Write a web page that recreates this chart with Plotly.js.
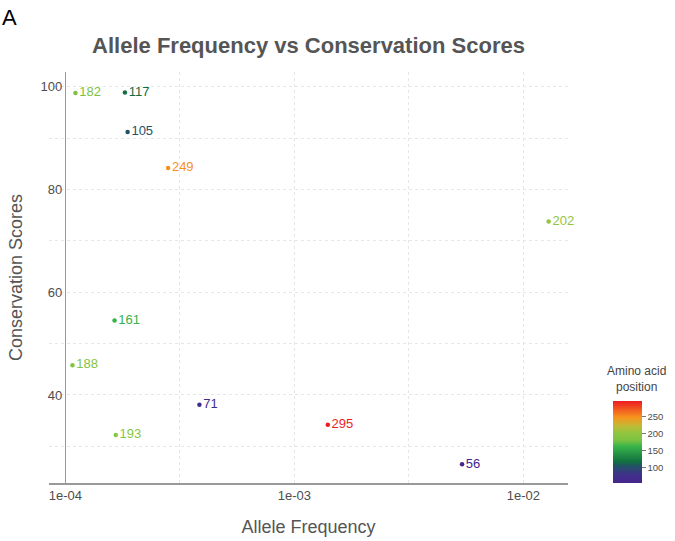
<!DOCTYPE html>
<html>
<head>
<meta charset="utf-8">
<script src="https://cdn.plot.ly/plotly-3.0.1.min.js"></script>
<style>html,body{margin:0;padding:0;background:#fff;}#chart{width:675px;height:541px;}</style>
</head>
<body>
<div id="chart"></div>
<script>
// Data
const positions = [182, 117, 105, 249, 202, 161, 188, 193, 71, 295, 56];
const alleleFreq = [1.107e-4, 1.82e-4, 1.87e-4, 2.81e-4, 1.29e-2, 1.64e-4, 1.074e-4, 1.66e-4, 3.85e-4, 1.40e-3, 5.40e-3];
const conservation = [98.8, 98.9, 91.2, 84.2, 73.8, 54.5, 45.8, 32.2, 38.1, 34.2, 26.5];
const xTickVals = [1e-4, 1e-3, 1e-2];
const xTickText = ['1e-04', '1e-03', '1e-02'];
const yTickVals = [40, 60, 80, 100];
const cbarTickVals = [100, 150, 200, 250];

const colorscale = [
  [0.0, '#46258c'],
  [0.1, '#40308a'],
  [0.2, '#255068'],
  [0.26, '#107040'],
  [0.45, '#39b54a'],
  [0.52, '#7cc242'],
  [0.6, '#8dc63f'],
  [0.69, '#bdbb36'],
  [0.8, '#f7941d'],
  [1.0, '#ed1c24']
];
const cmin = Math.min(...positions), cmax = Math.max(...positions);

function hexToRgb(h){return [parseInt(h.substr(1,2),16),parseInt(h.substr(3,2),16),parseInt(h.substr(5,2),16)];}
function colorFor(v){
  const t = (v - cmin) / (cmax - cmin);
  for (let i = 1; i < colorscale.length; i++) {
    if (t <= colorscale[i][0]) {
      const a = colorscale[i-1], b = colorscale[i];
      const f = (t - a[0]) / (b[0] - a[0]);
      const ca = hexToRgb(a[1]), cb = hexToRgb(b[1]);
      const c = ca.map((x, k) => Math.round(x + (cb[k] - x) * f));
      return 'rgb(' + c.join(',') + ')';
    }
  }
  return colorscale[colorscale.length-1][1];
}
const textColors = positions.map(colorFor);

const trace = {
  type: 'scatter',
  mode: 'markers+text',
  x: alleleFreq,
  y: conservation,
  text: positions.map(String),
  textposition: 'middle right',
  textfont: {family: 'Liberation Sans, Arial, sans-serif', size: 13, color: textColors},
  marker: {
    size: 4.5,
    color: positions,
    colorscale: colorscale,
    cmin: cmin,
    cmax: cmax,
    showscale: true,
    colorbar: {
      x: 1.086, xanchor: 'left', xpad: 0,
      y: 0, yanchor: 'bottom', ypad: 0,
      len: 0.2, lenmode: 'fraction',
      thickness: 29,
      outlinewidth: 0,
      tickvals: cbarTickVals,
      ticks: 'outside', ticklen: 4, tickcolor: '#777', tickwidth: 1,
      tickfont: {family: 'Liberation Sans, Arial, sans-serif', size: 9.5, color: '#4d4d4d'}
    }
  },
  hoverinfo: 'x+y+text',
  cliponaxis: false,
  showlegend: false
};

const axisFont = {family: 'Liberation Sans, Arial, sans-serif', size: 13, color: '#4d4d4d'};
const titleFont = {family: 'Liberation Sans, Arial, sans-serif', size: 18, color: '#555555'};
const gridCol = '#e6e6e6';

const layout = {
  width: 675, height: 541,
  margin: {l: 49, r: 103, t: 72, b: 58},
  paper_bgcolor: '#ffffff', plot_bgcolor: '#ffffff',
  title: {
    text: '<b>Allele Frequency vs Conservation Scores</b>',
    font: {family: 'Liberation Sans, Arial, sans-serif', size: 22, color: '#555555'},
    x: 0.5, xref: 'paper', xanchor: 'center',
    y: 1 - 45/541, yref: 'container', yanchor: 'middle'
  },
  xaxis: {
    type: 'log',
    range: [-4.0714, -1.805],
    tickvals: xTickVals, ticktext: xTickText,
    ticks: '', showline: true, linecolor: '#999999', linewidth: 1.5,
    showgrid: true, gridcolor: gridCol, griddash: 'dot', gridwidth: 1,
    minor: {tickvals: [3.162e-4, 3.162e-3], showgrid: true, gridcolor: gridCol, griddash: 'dot', ticks: ''},
    zeroline: false,
    tickfont: axisFont,
    title: {text: 'Allele Frequency', font: titleFont, standoff: 18}
  },
  yaxis: {
    range: [22.86, 102.9],
    tickvals: yTickVals,
    anchor: 'free', position: 16/523,
    ticks: '', showline: true, linecolor: '#999999', linewidth: 1.5,
    showgrid: true, gridcolor: gridCol, griddash: 'dot', gridwidth: 1,
    minor: {tickvals: [30, 50, 70, 90], showgrid: true, gridcolor: gridCol, griddash: 'dot', ticks: ''},
    zeroline: false,
    tickfont: axisFont,
    title: {text: 'Conservation Scores', font: titleFont, standoff: 12}
  },
  annotations: [
    {text: 'A', xref: 'paper', yref: 'paper', x: -49/523, y: 1 + (72-18)/411, xanchor: 'left', yanchor: 'middle',
     showarrow: false, font: {family: 'Liberation Sans Narrow, Liberation Sans, Arial, sans-serif', size: 22, color: '#000000'}},
    {text: 'Amino acid<br>position', xref: 'paper', yref: 'paper', x: (641-49)/523, y: (483-379)/411,
     xanchor: 'center', yanchor: 'middle', showarrow: false,
     font: {family: 'Liberation Sans, Arial, sans-serif', size: 12, color: '#444444'}}
  ]
};

Plotly.newPlot('chart', [trace], layout, {displayModeBar: false, staticPlot: true});
</script>
</body>
</html>
